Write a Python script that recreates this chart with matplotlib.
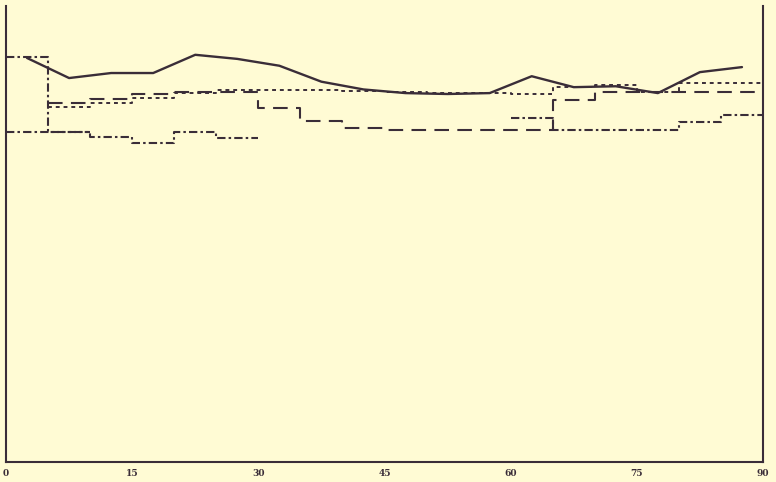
import numpy as np
import matplotlib
matplotlib.use("Agg")
import matplotlib.pyplot as plt

# x ticks
xticks = [0, 15, 30, 45, 60, 75, 90]

# Solid curve: points at bin centres
solid_x = [2.5, 7.5, 12.5, 17.5, 22.5, 27.5, 32.5, 37.5, 42.5, 47.5,
           52.5, 57.5, 62.5, 67.5, 72.5, 77.5, 82.5, 87.5]
solid_y = [88.6, 84.2, 85.3, 85.3, 89.3, 88.4, 86.9, 83.4, 81.7, 80.9,
           80.7, 80.9, 84.6, 82.2, 82.4, 80.9, 85.5, 86.6]

# Step series: left bin edges 5..85 (last edge 90)
edges_5 = [5, 10, 15, 20, 25, 30, 35, 40, 45, 50, 55, 60, 65, 70, 75, 80, 85, 90]
dashed_y = [78.7, 79.6, 80.7, 81.1, 81.1, 77.6, 74.8, 73.2, 72.8, 72.8,
            72.8, 72.8, 79.4, 81.1, 81.1, 81.1, 81.1]
dotted_y = [77.9, 78.7, 79.8, 80.9, 81.6, 81.6, 81.6, 81.4, 81.1, 80.9,
            80.9, 80.7, 82.2, 82.7, 81.1, 83.1, 83.1]

# Dash-dot series starting at 0 (nan = no data)
edges_0 = [0, 5, 10, 15, 20, 25, 30, 35, 40, 45, 50, 55, 60, 65, 70, 75, 80, 85, 90]
dashdot_low_y = [72.4, 72.4, 71.3, 70.0, 72.4, 71.1, np.nan, np.nan, np.nan,
                 np.nan, np.nan, np.nan, 75.4, 72.8, 72.8, 72.8, 74.6, 76.1]
dashdot_top_x = [0, 5, 10]
dashdot_top_y = [88.8, 72.4]

ink = "#3a2d38"
bg = "#fffbd4"

fig = plt.figure(figsize=(7.76, 4.82), dpi=100, facecolor=bg)
ax = fig.add_axes([6 / 776, 20 / 482, 757 / 776, 456 / 482])
ax.set_facecolor(bg)

ax.plot(solid_x, solid_y, color=ink, lw=1.7, solid_capstyle="round")

def stepline(edges, vals, **kw):
    xs = list(edges)
    ys = list(vals) + [vals[-1]]
    ax.step(xs, ys, where="post", **kw)

stepline(edges_5, dashed_y, color=ink, lw=1.5, dashes=(7, 4))
stepline(edges_5, dotted_y, color=ink, lw=1.4, dashes=(2, 2))
stepline(edges_0, dashdot_low_y, color=ink, lw=1.5, dashes=(4, 1.5, 1.2, 1.5))
stepline(dashdot_top_x, dashdot_top_y, color=ink, lw=1.5, dashes=(4, 1.5, 1.2, 1.5))

ax.set_xlim(0, 90)
ax.set_ylim(0, 100)
ax.set_xticks(xticks)
ax.set_xticklabels([str(t) for t in xticks], fontfamily="DejaVu Serif",
                   fontweight="bold", fontsize=6.5, color=ink)
ax.set_yticks([])
ax.tick_params(axis="x", length=0, pad=5)
ax.spines["top"].set_visible(False)
for s in ["left", "right", "bottom"]:
    ax.spines[s].set_color(ink)
    ax.spines[s].set_linewidth(1.5)

fig.savefig("out.png", dpi=100, facecolor=bg)
